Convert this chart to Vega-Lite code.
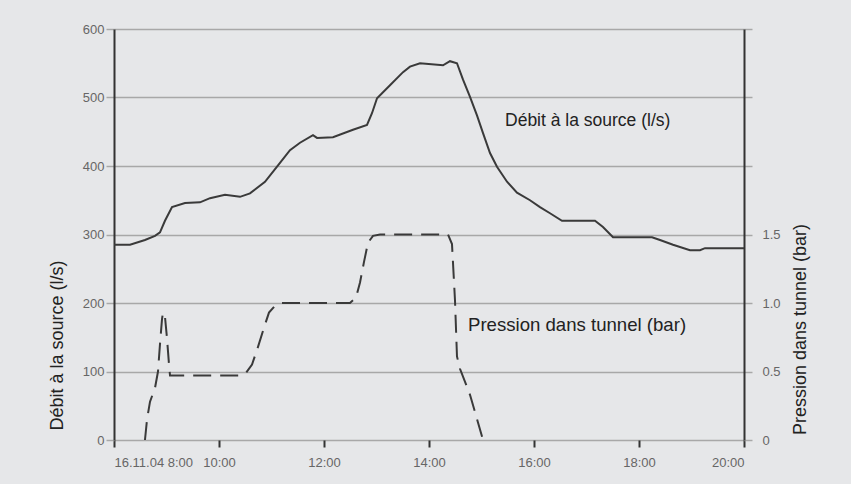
{
  "$schema": "https://vega.github.io/schema/vega-lite/v6.json",
  "width": 630,
  "height": 411,
  "autosize": {"type": "none"},
  "padding": {"left": 114, "top": 29, "right": 107, "bottom": 44},
  "background": "#e6e7e9",
  "config": {
    "view": {"stroke": null},
    "font": "Liberation Sans",
    "axis": {"labelFont": "Liberation Sans", "titleFont": "Liberation Sans", "labelColor": "#666666", "titleColor": "#222222", "titleFontWeight": "normal", "titleFontSize": 18, "labelFontSize": 13}
  },
  "datasets": {
    "debit": [
      {"h": 8.000, "v": 285}, {"h": 8.305, "v": 285}, {"h": 8.590, "v": 292}, {"h": 8.781, "v": 298},
      {"h": 8.876, "v": 303}, {"h": 8.971, "v": 320}, {"h": 9.105, "v": 340}, {"h": 9.352, "v": 346},
      {"h": 9.638, "v": 347}, {"h": 9.829, "v": 353}, {"h": 10.114, "v": 358}, {"h": 10.400, "v": 355},
      {"h": 10.590, "v": 360}, {"h": 10.876, "v": 377}, {"h": 11.124, "v": 401}, {"h": 11.352, "v": 423},
      {"h": 11.543, "v": 434}, {"h": 11.790, "v": 445}, {"h": 11.867, "v": 441}, {"h": 12.171, "v": 442},
      {"h": 12.552, "v": 453}, {"h": 12.819, "v": 460}, {"h": 12.914, "v": 477}, {"h": 13.010, "v": 499},
      {"h": 13.257, "v": 518}, {"h": 13.505, "v": 537}, {"h": 13.638, "v": 545}, {"h": 13.829, "v": 550},
      {"h": 14.267, "v": 547}, {"h": 14.400, "v": 553}, {"h": 14.533, "v": 550}, {"h": 14.648, "v": 526},
      {"h": 14.781, "v": 501}, {"h": 14.914, "v": 474}, {"h": 15.029, "v": 448}, {"h": 15.162, "v": 419},
      {"h": 15.295, "v": 399}, {"h": 15.486, "v": 377}, {"h": 15.676, "v": 361}, {"h": 15.924, "v": 350},
      {"h": 16.114, "v": 340}, {"h": 16.305, "v": 331}, {"h": 16.533, "v": 320}, {"h": 17.162, "v": 320},
      {"h": 17.314, "v": 311}, {"h": 17.505, "v": 296}, {"h": 18.248, "v": 296}, {"h": 18.400, "v": 292},
      {"h": 18.648, "v": 285}, {"h": 18.971, "v": 277}, {"h": 19.162, "v": 277}, {"h": 19.257, "v": 280},
      {"h": 20.000, "v": 280}
    ],
    "pression": [
      {"h": 8.590, "p": 0}, {"h": 8.629, "p": 0.15}, {"h": 8.686, "p": 0.28}, {"h": 8.781, "p": 0.38},
      {"h": 8.838, "p": 0.5}, {"h": 8.876, "p": 0.7}, {"h": 8.914, "p": 0.88}, {"h": 8.933, "p": 0.93},
      {"h": 8.971, "p": 0.9}, {"h": 9.010, "p": 0.74}, {"h": 9.048, "p": 0.55}, {"h": 9.067, "p": 0.47},
      {"h": 10.400, "p": 0.47}, {"h": 10.514, "p": 0.49}, {"h": 10.629, "p": 0.55}, {"h": 10.743, "p": 0.68},
      {"h": 10.857, "p": 0.82}, {"h": 10.952, "p": 0.93}, {"h": 11.067, "p": 0.98}, {"h": 11.200, "p": 1.0},
      {"h": 12.495, "p": 1.0}, {"h": 12.610, "p": 1.04}, {"h": 12.686, "p": 1.15}, {"h": 12.762, "p": 1.3},
      {"h": 12.838, "p": 1.44}, {"h": 12.933, "p": 1.49}, {"h": 13.067, "p": 1.5}, {"h": 14.362, "p": 1.5},
      {"h": 14.438, "p": 1.43}, {"h": 14.495, "p": 1.02}, {"h": 14.533, "p": 0.61}, {"h": 14.590, "p": 0.52},
      {"h": 14.781, "p": 0.33}, {"h": 15.029, "p": 0}
    ],
    "labels": [
      {"h": 15.448, "v": 466, "t": "Débit à la source (l/s)", "s": "debit"},
      {"h": 14.743, "v": 168, "t": "Pression dans tunnel (bar)", "s": "pression"}
    ]
  },
  "layer": [
    {
      "data": {"name": "debit"},
      "mark": {"type": "line", "color": "#3a3a3a", "strokeWidth": 2},
      "encoding": {
        "x": {"field": "h", "type": "quantitative", "scale": {"domain": [8, 20], "nice": false, "zero": false},
          "axis": {"values": [8, 10, 12, 14, 16, 18, 20], "grid": false, "domain": false, "tickColor": "#333333", "tickWidth": 2, "tickSize": 7, "labelPadding": 9,
            "labelExpr": "datum.value == 8 ? '16.11.04 8:00' : datum.value + ':00'", "title": null}},
        "y": {"field": "v", "type": "quantitative", "scale": {"domain": [0, 600], "nice": false},
          "axis": {"values": [0, 100, 200, 300, 400, 500, 600], "grid": true, "gridColor": "#a8a8a8", "gridWidth": 1.5, "domain": true, "domainColor": "#333333", "domainWidth": 2,
            "tickColor": "#a8a8a8", "tickWidth": 1.5, "tickSize": 8, "labelPadding": 2,
            "title": "Débit à la source (l/s)", "titleAngle": -90, "titleX": -57, "titleY": 316, "titleAlign": "center", "titleBaseline": "middle"}}
      }
    },
    {
      "data": {"name": "pression"},
      "mark": {"type": "line", "color": "#3a3a3a", "strokeWidth": 2, "strokeDash": [18, 9]},
      "encoding": {
        "x": {"field": "h", "type": "quantitative"},
        "y": {"field": "p", "type": "quantitative", "scale": {"domain": [0, 3], "nice": false},
          "axis": {"orient": "right", "values": [0, 0.5, 1, 1.5, 2, 2.5, 3], "grid": false, "domain": true, "domainColor": "#333333", "domainWidth": 2,
            "tickColor": "#a8a8a8", "tickWidth": 1.5, "tickSize": 8, "labelPadding": 10,
            "labelExpr": "datum.value > 1.5 ? '' : (datum.value == 0 ? '0' : format(datum.value, '.1f'))",
            "title": "Pression dans tunnel (bar)", "titleAngle": -90, "titleX": 56, "titleY": 300, "titleAlign": "center", "titleBaseline": "middle"}}
      }
    },
    {
      "data": {"name": "labels"},
      "mark": {"type": "text", "align": "left", "baseline": "middle", "color": "#222222", "font": "Liberation Sans"},
      "encoding": {
        "x": {"field": "h", "type": "quantitative"},
        "y": {"field": "v", "type": "quantitative", "scale": {"domain": [0, 600], "nice": false}, "axis": null},
        "text": {"field": "t"},
        "size": {"field": "s", "type": "nominal", "scale": {"domain": ["debit", "pression"], "range": [17.5, 18.6]}, "legend": null}
      }
    }
  ],
  "resolve": {"scale": {"y": "independent"}}
}
